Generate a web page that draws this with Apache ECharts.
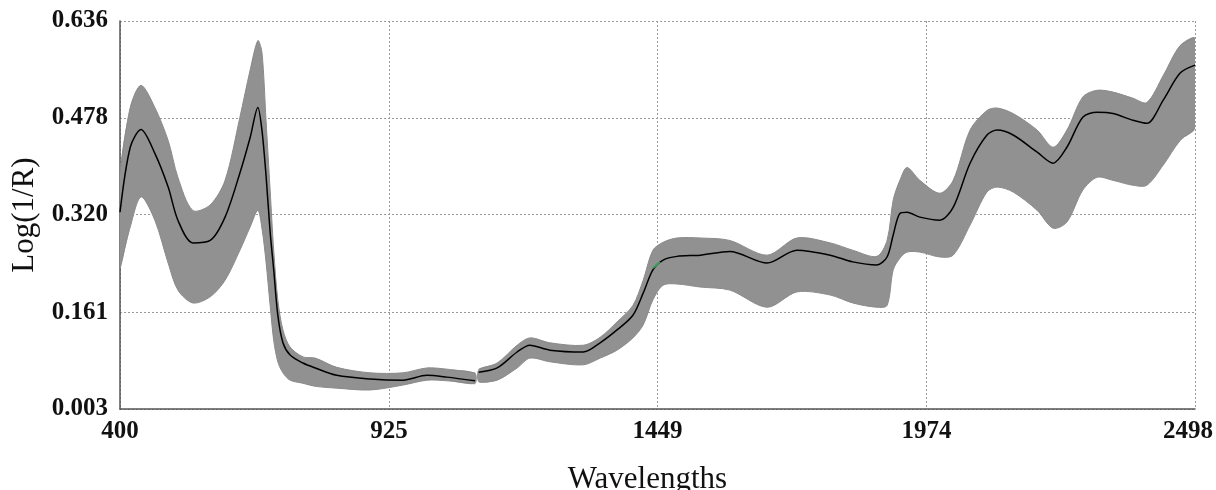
<!DOCTYPE html>
<html>
<head>
<meta charset="utf-8">
<title>Log(1/R) spectra</title>
<script src="https://cdn.jsdelivr.net/npm/echarts@6/dist/echarts.min.js"></script>
<style>
  html, body { margin: 0; padding: 0; background: #fff; }
  #chart { width: 1216px; height: 490px; }
</style>
</head>
<body>
<div id="chart"></div>
<script>
// wavelengths (nm); null row = break between detectors
var wavelengths = [400, 420, 441, 468, 494, 513, 542, 576, 605, 634, 654, 669, 677, 685, 693, 700, 708, 718, 732, 757,
  781, 823, 888, 952, 999, 1038, 1093, 1096, 1100, 1136, 1175, 1200, 1239, 1304, 1337, 1370, 1401, 1421, 1440, 1460,
  1487, 1532, 1590, 1663, 1721, 1786, 1830, 1877, 1897, 1909, 1922, 1936, 1961, 2000, 2026, 2059, 2092, 2112, 2143,
  2190, 2221, 2248, 2279, 2307, 2338, 2377, 2404, 2436, 2469, 2498];

// highest spectrum (top of the grey bundle)
var upperSpectrum = [0.388, 0.495, 0.531, 0.495, 0.441, 0.381, 0.327, 0.336, 0.376, 0.479, 0.556, 0.604, 0.585, 0.474, 0.360, 0.262, 0.181, 0.132, 0.104, 0.088,
  0.086, 0.071, 0.062, 0.062, 0.070, 0.068, 0.062, null, 0.068, 0.078, 0.107, 0.119, 0.111, 0.107, 0.120, 0.145, 0.172, 0.213, 0.262, 0.275,
  0.282, 0.282, 0.278, 0.254, 0.282, 0.274, 0.262, 0.252, 0.278, 0.344, 0.376, 0.397, 0.376, 0.355, 0.376, 0.458, 0.490, 0.494, 0.485,
  0.458, 0.430, 0.458, 0.512, 0.523, 0.520, 0.510, 0.503, 0.547, 0.596, 0.608];

// mean spectrum (black)
var meanSpectrum = [0.324, 0.430, 0.459, 0.420, 0.365, 0.311, 0.274, 0.278, 0.316, 0.388, 0.446, 0.495, 0.458, 0.384, 0.292, 0.230, 0.156, 0.111, 0.091, 0.078,
  0.070, 0.058, 0.052, 0.050, 0.058, 0.055, 0.049, null, 0.063, 0.070, 0.096, 0.107, 0.099, 0.096, 0.111, 0.132, 0.156, 0.192, 0.230, 0.246,
  0.252, 0.254, 0.260, 0.241, 0.262, 0.254, 0.243, 0.238, 0.251, 0.287, 0.322, 0.324, 0.316, 0.311, 0.332, 0.404, 0.450, 0.458, 0.450,
  0.422, 0.404, 0.430, 0.479, 0.487, 0.485, 0.474, 0.469, 0.507, 0.551, 0.564];

// lowest spectrum (bottom of the grey bundle)
var lowerSpectrum = [0.233, 0.300, 0.349, 0.311, 0.241, 0.197, 0.176, 0.186, 0.213, 0.262, 0.300, 0.327, 0.298, 0.243, 0.172, 0.115, 0.080, 0.062, 0.050, 0.045,
  0.040, 0.037, 0.034, 0.042, 0.050, 0.049, 0.044, null, 0.047, 0.050, 0.070, 0.086, 0.080, 0.075, 0.086, 0.099, 0.119, 0.140, 0.181, 0.205,
  0.207, 0.202, 0.197, 0.169, 0.194, 0.189, 0.176, 0.169, 0.172, 0.230, 0.249, 0.259, 0.259, 0.251, 0.254, 0.303, 0.357, 0.365, 0.357,
  0.327, 0.298, 0.308, 0.360, 0.381, 0.376, 0.368, 0.368, 0.401, 0.441, 0.461];

// short green-coloured spectrum piece visible near 1449 nm
var greenWavelengths = [1440, 1454];
var greenValues = [0.233, 0.243];

var xTicks = [400, 925, 1449, 1974, 2498];
var yTicks = [0.003, 0.161, 0.320, 0.478, 0.636];
var yTickLabels = ['0.003', '0.161', '0.320', '0.478', '0.636'];

function pairs (xs, ys) {
  return xs.map(function (w, i) { return [w, ys[i]]; });
}

// index ranges of the two detector segments (split at the null row)
var segments = [];
(function () {
  var start = null;
  for (var i = 0; i <= wavelengths.length; i++) {
    var ok = i < wavelengths.length && upperSpectrum[i] != null;
    if (ok && start === null) start = i;
    if (!ok && start !== null) { segments.push([start, i - 1]); start = null; }
  }
})();

var chart = echarts.init(document.getElementById('chart'));
var serif = '"Liberation Serif", "Times New Roman", serif';
var gridLine = { show: true, lineStyle: { color: '#9a9a9a', type: [2, 2], width: 1 } };
var SMOOTH = 0.3;

function renderBand (params, api) {
  var seg = segments[params.dataIndex];
  var top = [], bottom = [];
  for (var i = seg[0]; i <= seg[1]; i++) {
    top.push(api.coord([wavelengths[i], upperSpectrum[i]]));
    bottom.push(api.coord([wavelengths[i], lowerSpectrum[i]]));
  }
  var ring = top.concat(bottom.slice().reverse());
  return {
    type: 'group',
    children: [
      { type: 'polygon', shape: { points: ring, smooth: SMOOTH }, style: { fill: '#919191', stroke: null } },
      { type: 'polyline', shape: { points: top, smooth: SMOOTH }, style: { fill: null, stroke: '#8a8a8a', lineWidth: 1 } },
      { type: 'polyline', shape: { points: bottom, smooth: SMOOTH }, style: { fill: null, stroke: '#8a8a8a', lineWidth: 1 } }
    ]
  };
}

var tickFont = { fontFamily: serif, fontWeight: 'bold', fontSize: 25, color: '#111' };

chart.setOption({
  animation: false,
  grid: { left: 120, right: 21, top: 21, bottom: 81, outerBoundsMode: 'none', containLabel: false },
  xAxis: {
    type: 'value',
    min: 400,
    max: 2498,
    name: 'Wavelengths',
    nameLocation: 'middle',
    nameGap: 55,
    nameTextStyle: { fontFamily: serif, fontSize: 31, color: '#111', padding: [0, 20, 0, 0] },
    axisLine: { show: true, onZero: false, lineStyle: { color: '#555', width: 1.5 } },
    axisTick: { show: false, customValues: xTicks },
    axisLabel: {
      customValues: xTicks,
      margin: 10,
      fontFamily: serif, fontWeight: 'bold', fontSize: 25, color: '#111',
      formatter: function (v) {
        return v === xTicks[xTicks.length - 1] ? '{last|' + v + '}' : String(v);
      },
      rich: {
        last: Object.assign({ padding: [0, 14, 0, 0] }, tickFont)
      }
    },
    splitLine: gridLine
  },
  yAxis: {
    type: 'value',
    min: 0.003,
    max: 0.636,
    name: 'Log(1/R)',
    nameLocation: 'middle',
    nameGap: 73,
    nameTextStyle: { fontFamily: serif, fontSize: 31, color: '#111' },
    axisLine: { show: true, onZero: false, lineStyle: { color: '#555', width: 1.5 } },
    axisTick: { show: false, customValues: yTicks },
    axisLabel: {
      customValues: yTicks,
      margin: 12,
      fontFamily: serif, fontWeight: 'bold', fontSize: 25, color: '#111',
      formatter: function (v) {
        var i = yTicks.indexOf(v);
        return i >= 0 ? yTickLabels[i] : v.toFixed(3);
      }
    },
    splitLine: gridLine
  },
  series: [
    {
      name: 'spectra', type: 'custom', coordinateSystem: 'cartesian2d',
      data: segments.map(function (s) { return [wavelengths[s[0]], upperSpectrum[s[0]]]; }),
      renderItem: renderBand, clip: true, silent: true
    },
    {
      name: 'mean', type: 'line', data: pairs(wavelengths, meanSpectrum),
      symbol: 'none', smooth: SMOOTH, lineStyle: { color: '#000', width: 1.5 }, z: 5
    },
    {
      name: 'green', type: 'line', data: pairs(greenWavelengths, greenValues),
      symbol: 'none', lineStyle: { color: '#3c9c5c', width: 2 }, z: 6
    }
  ]
});
</script>
</body>
</html>
